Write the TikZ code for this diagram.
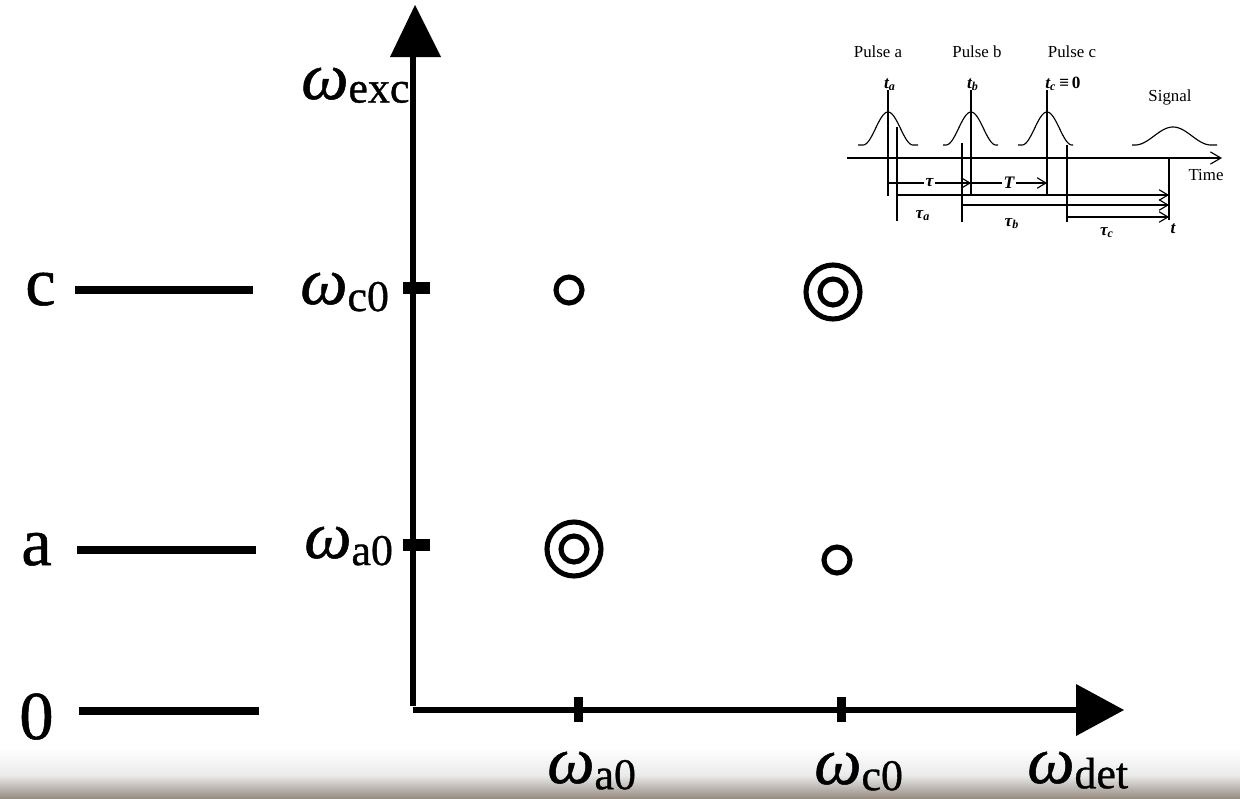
\documentclass[tikz,border=0pt]{standalone}
\usepackage{fontspec}
\setmainfont{Liberation Serif}
\newfontfamily\heavyserif[FakeBold=0.8]{Liberation Serif}
\usetikzlibrary{arrows.meta}
\newcommand{\omsub}[2][-4pt]{\textit{ω}{\fontsize{25}{26}\selectfont\raisebox{#1}{#2}}}
\begin{document}
\begin{tikzpicture}[x=0.02cm,y=-0.02cm,
  level/.style={line width=4.5pt},
  axisline/.style={line width=3.4pt},
  peakring/.style={line width=2.9pt},
  thinline/.style={line width=0.65pt},
  tarr/.style={thinline,-{Straight Barb[length=5pt,width=6pt]}},
  biglab/.style={font=\heavyserif\fontsize{39}{40}\selectfont, inner sep=0pt, anchor=base west},
  omlab/.style={font=\heavyserif\fontsize{38}{40}\selectfont, inner sep=0pt, anchor=base west},
  small/.style={font=\fontsize{9.6}{10}\selectfont, inner sep=0pt, anchor=base},
  smallb/.style={font=\fontsize{9.8}{10}\selectfont\bfseries\itshape, inner sep=0pt, anchor=base}]
\useasboundingbox (0,0) rectangle (1240,798);
\fill[white] (0,0) rectangle (1240,798);
% bottom photographic band
\shade[top color=white, bottom color=black!8!white] (0,748) rectangle (1240,775);
\shade[top color=black!8!white, bottom color={rgb,255:red,150;green,140;blue,128}] (0,775) rectangle (1240,798.5);

% energy levels
\node[biglab] (lc) at (25,305) {c};
\node[biglab] (la) at (21,565) {a};
\node[biglab] (l0) at (19,739) {0};
\draw[level] (75,290) -- (253,290);
\draw[level] (77,550) -- (256,550);
\draw[level] (79,711) -- (259,711);

% axes
\draw[axisline] (413,55) -- (413,706);
\draw[axisline] (413,710) -- (1078,710);
\fill (390,57) -- (415,5) -- (441,57) -- cycle;
\fill (1076,684) -- (1124,710) -- (1076,736) -- cycle;
\fill (403,282) rectangle (430,294);
\fill (403,539) rectangle (430,551);
\fill (574,697) rectangle (583,722);
\fill (837,697) rectangle (846,722);

% axis labels
\node[omlab] (wexc) at (301,99) {\omsub[-2pt]{exc}};
\node[omlab] (wc0) at (300,304) {\omsub{c0}};
\node[omlab] (wa0) at (304,558) {\omsub{a0}};
\node[omlab] (wa0b) at (547,783) {\omsub[-3.5pt]{a0}};
\node[omlab] (wc0b) at (814,784) {\omsub[-3.5pt]{c0}};
\node[omlab] (wdet) at (1027,783) {\omsub[-3pt]{det}};

% peaks
\draw[peakring] (569,290) circle (13);
\draw[peakring] (833,292) circle (27);
\draw[peakring] (833,292) circle (13);
\draw[peakring] (574,549) circle (27);
\draw[peakring] (574,549) circle (13);
\draw[peakring] (837,560) circle (13);

% inset: pulse sequence
\node[small] (pa) at (878,57) {Pulse a};
\node[small] (pb) at (977,57) {Pulse b};
\node[small] (pc) at (1072,57) {Pulse c};
\node[small] (sig) at (1170,101) {Signal};
\node[small] (time) at (1206,180) {Time};
\node[smallb] (ta) at (890,88) {t\textsubscript{a}};
\node[smallb] (tb) at (973,88) {t\textsubscript{b}};
\node[smallb] (tc) at (1063,88) {t\textsubscript{c}\,\textup{≡}\,\textup{0}};
\draw[thinline,-{Straight Barb[length=6pt,width=7pt]}] (847,158) -- (1222,158);
\draw[thinline] (858,145) -- (863,145) plot[domain=-25:25,samples=60] ({888+\x},{145-33*(0.5+0.5*cos(7.2*\x))}) -- (918,145);
\draw[thinline] (943,145) -- (946,145) plot[domain=-25:25,samples=60] ({971+\x},{145-33*(0.5+0.5*cos(7.2*\x))}) -- (998,145);
\draw[thinline] (1018,145) -- (1022,145) plot[domain=-25:25,samples=60] ({1047+\x},{145-33*(0.5+0.5*cos(7.2*\x))}) -- (1073,145);
\draw[thinline] (1132,145) -- (1135,145) plot[domain=-38:38,samples=60] ({1173+\x},{145-18*(0.5+0.5*cos(4.737*\x))}) -- (1217,145);
% vertical markers
\draw[thinline] (888,90) -- (888,196);
\draw[thinline] (971,90) -- (971,196);
\draw[thinline] (1047,90) -- (1047,196);
\draw[thinline] (897,127) -- (897,221);
\draw[thinline] (962,143) -- (962,222);
\draw[thinline] (1067,145) -- (1067,222);
\draw[thinline] (1169,158) -- (1169,220);
% delay arrows
\coordinate (r1a) at (888,183); \coordinate (r1b) at (971,183); \coordinate (r1c) at (1047,183);
\draw[tarr] (r1a) -- node[fill=white, inner sep=1pt, font=\fontsize{10}{10}\selectfont\bfseries\itshape] (tau) {τ} (r1b);
\draw[tarr] (r1b) -- node[fill=white, inner sep=1pt, font=\fontsize{10}{10}\selectfont\bfseries\itshape] (tT) {T} (r1c);
\draw[tarr] (897,195) -- (1169,195);
\draw[tarr] (962,205) -- (1169,205);
\draw[tarr] (1067,217) -- (1169,217);
\node[smallb] (tauA) at (923,218) {τ\textsubscript{a}};
\node[smallb] (tauB) at (1012,226) {τ\textsubscript{b}};
\node[smallb] (tauC) at (1107,235) {τ\textsubscript{c}};
\node[smallb] (tt) at (1173,233) {t};
\end{tikzpicture}
\end{document}
